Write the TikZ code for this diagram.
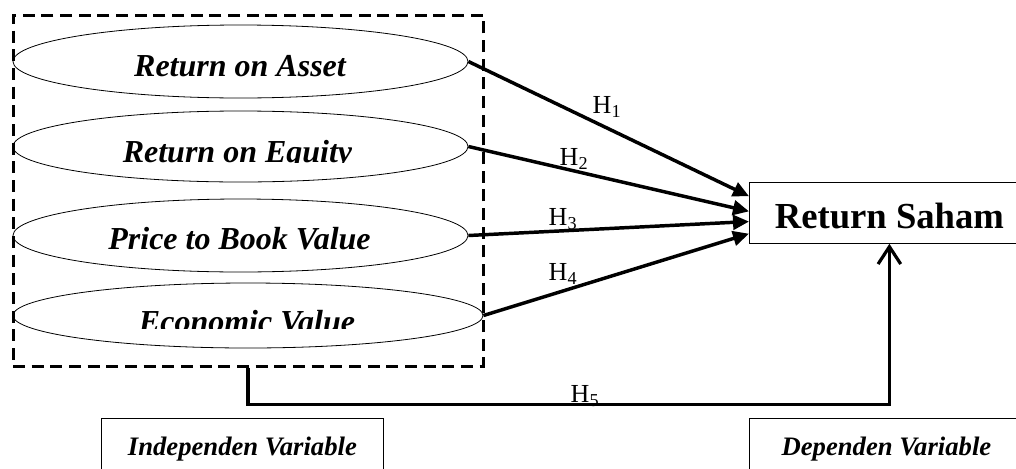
\documentclass[tikz,border=0pt]{standalone}
\usepackage{fontspec}
\setmainfont{Liberation Serif}
\usetikzlibrary{shapes.geometric,arrows.meta,positioning,calc}
\tikzset{
varell/.style 2 args={draw, ellipse, line width=0.6pt, inner sep=0pt,
  minimum width=#1*0.75pt, minimum height=#2*0.75pt}, % ellipse size in px
vartext/.style={font=\fontsize{24}{28}\selectfont\bfseries\itshape, inner sep=0pt, anchor=base},
ivgroup/.style={draw, line width=2.25pt, dash pattern=on 9pt off 5pt, inner sep=0pt,
  minimum width=470*0.75pt, minimum height=351*0.75pt},
hyp/.style={line width=2.6pt, -{Triangle[length=12pt,width=11pt]}},
hlink/.style={line width=2.4pt, -{Straight Barb[length=13pt,width=17pt,line width=2.4pt]}},
hlabel/.style={font=\fontsize{19.5}{22}\selectfont, inner sep=0pt, anchor=base},
labbox/.style={draw, line width=0.6pt, inner sep=0pt, anchor=north west,
  text height=27.75pt, text depth=40pt, font=\fontsize{20}{22}\selectfont\bfseries\itshape},
}
\begin{document}
\begin{tikzpicture}[x=0.75pt, y=-0.75pt]
\useasboundingbox (0,0) rectangle (1016,468);

% independent variables
\node[ivgroup] (ivg) at (248,190.5) {};
\node[varell={455}{73}] (roa) at (240.5,61.5) {};
\node[varell={455}{71}] (roe) at (240.5,146.5) {};
\node[varell={455}{73}] (pbv) at (240.5,235.5) {};
\node[varell={470}{65}] (eva) at (248,315.5) {};

\node[vartext] (roatext) at (240,76) {Return on Asset};
\begin{scope}
\clip (0,100) rectangle (500,162);
\node[vartext] (roetext) at (237.5,162) {Return on Equity};
\end{scope}
\node[vartext] (pbvtext) at (239.5,249) {Price to Book Value};
\begin{scope}
\clip (0,290) rectangle (500,328);
\node[vartext] (evatext) at (247,332) {Economic Value};
\end{scope}

% dependent variable
\node[draw, line width=0.6pt, anchor=north west, inner sep=0pt,
  minimum width=280*0.75pt, text height=34.5pt, text depth=11.25pt,
  font=\fontsize{27.5}{30}\selectfont\bfseries] (rs) at (749,182) {Return Saham};

% hypotheses
\draw[hyp] (roa.east) -- ($(rs.north west)!0.23!(rs.south west)$);
\draw[hyp] (roe.east) -- ($(rs.north west)!0.475!(rs.south west)$);
\draw[hyp] (pbv.east) -- ($(rs.north west)!0.64!(rs.south west)$);
\draw[hyp] (eva.east) -- ($(rs.north west)!0.836!(rs.south west)$);
\draw[hlink] (ivg.south) -- ++(0,37) -| (rs.south);

\node[hlabel] (h1) at (607,113) {H\textsubscript{1}};
\node[hlabel] (h2) at (574,165) {H\textsubscript{2}};
\node[hlabel] (h3) at (563,225) {H\textsubscript{3}};
\node[hlabel] (h4) at (563,280) {H\textsubscript{4}};
\node[hlabel] (h5) at (585,402) {H\textsubscript{5}};

% legend boxes
\node[labbox, minimum width=282*0.75pt] (ivlab) at (101,418) {Independen Variable};
\node[labbox, minimum width=274*0.75pt] (dvlab) at (749,418) {Dependen Variable};

\end{tikzpicture}
\end{document}
